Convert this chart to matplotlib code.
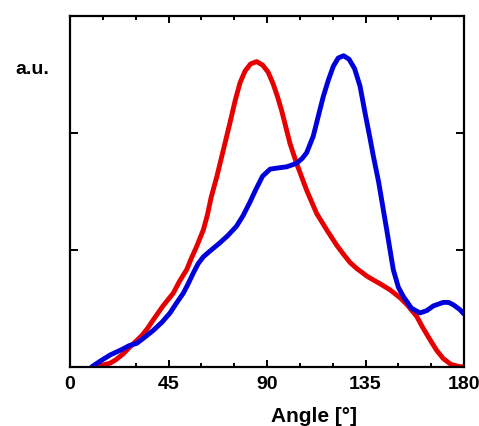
import matplotlib
matplotlib.use("Agg")
import matplotlib.pyplot as plt
from matplotlib.ticker import MultipleLocator

# values (angle in degrees, intensity in a.u.)
blue_angle = [10, 14, 18.3, 24, 27, 30.5, 34, 38, 42, 45.7, 48.5, 51.8, 54,
              56.3, 58.5, 60.9, 64, 68.5, 72, 76, 79, 82, 85, 88, 91.4, 95,
              99, 103.5, 106, 108.1, 111.1, 114.2, 115.7, 118, 120.3, 122.5,
              125, 127.5, 130, 132.5, 134.8, 137, 138.6, 141, 144.7, 147.7,
              150, 152.3, 156, 159.9, 163, 166, 170.5, 173, 175.1, 178, 180]
blue_val = [0.0, 0.05, 0.10, 0.15, 0.18, 0.20, 0.25, 0.31, 0.38, 0.46, 0.54,
            0.63, 0.71, 0.80, 0.88, 0.94, 0.99, 1.06, 1.12, 1.20, 1.29, 1.40,
            1.52, 1.63, 1.69, 1.70, 1.71, 1.74, 1.78, 1.83, 1.97, 2.20, 2.31,
            2.45, 2.57, 2.64, 2.66, 2.63, 2.55, 2.40, 2.17, 1.96, 1.80, 1.58,
            1.17, 0.83, 0.68, 0.60, 0.50, 0.46, 0.48, 0.52, 0.55, 0.55, 0.53,
            0.49, 0.45]

red_angle = [10.6, 14, 18.3, 21, 24.3, 27.4, 29.7, 33, 35.5, 38, 42.5, 47.2,
             50, 53.3, 55.5, 57.9, 60.9, 62.8, 64.5, 67, 70, 73, 75.5, 77.7,
             80, 82.5, 85.3, 88, 90.5, 92.8, 94.8, 96.7, 100.5, 103.5, 108.1,
             112.7, 117.3, 121.8, 125, 128, 131, 136, 141.6, 146, 150.8, 154,
             158.4, 161, 164.5, 167.5, 170.5, 174, 178, 180]
red_val = [0.0, 0.01, 0.03, 0.06, 0.11, 0.17, 0.21, 0.27, 0.33, 0.40, 0.52,
           0.63, 0.73, 0.83, 0.93, 1.03, 1.17, 1.30, 1.45, 1.62, 1.85, 2.08,
           2.28, 2.43, 2.53, 2.59, 2.61, 2.58, 2.52, 2.42, 2.31, 2.19, 1.91,
           1.74, 1.51, 1.31, 1.17, 1.04, 0.96, 0.89, 0.84, 0.77, 0.71, 0.66,
           0.59, 0.53, 0.43, 0.34, 0.23, 0.14, 0.07, 0.02, 0.0, 0.0]

x_ticks = [0, 45, 90, 135, 180]

plt.rcParams["font.family"] = ["Liberation Sans", "DejaVu Sans"]
plt.rcParams["font.weight"] = "bold"

fig = plt.figure(figsize=(4.79, 4.26), dpi=100)
ax = fig.add_axes([70 / 479, 1 - 366.7 / 426, 394 / 479, 350.7 / 426])

ax.plot(red_angle, red_val, color="#e60000", lw=3.5, solid_joinstyle="round",
        solid_capstyle="round")
ax.plot(blue_angle, blue_val, color="#0000dd", lw=3.5, solid_joinstyle="round",
        solid_capstyle="round")

ax.set_xlim(0, 180)
ax.set_ylim(0, 3)
ax.set_xticks(x_ticks)
ax.xaxis.set_minor_locator(MultipleLocator(15))
ax.set_yticks([1, 2])
ax.set_yticklabels([])
ax.tick_params(which="both", direction="in", top=True, right=True, width=1.4,
               labelsize=14, pad=7)
ax.tick_params(which="major", length=5)
ax.tick_params(axis="y", which="major", length=5.5)
ax.tick_params(which="minor", length=3)
for s in ax.spines.values():
    s.set_linewidth(1.6)

ax.set_xlabel("Angle [°]", fontsize=15, fontweight="bold")
ax.xaxis.set_label_coords(0.62, -0.115)
fig.text(32 / 479, 1 - 70 / 426, "a.u.", ha="center", va="center",
         fontsize=14, fontweight="bold")

fig.savefig("out.png", dpi=100, facecolor="white")
